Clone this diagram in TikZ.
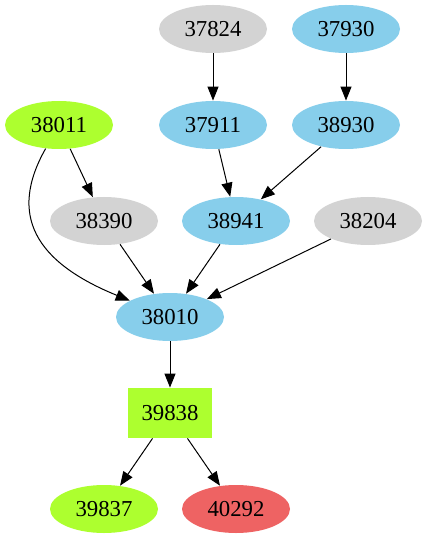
\documentclass[tikz,border=0pt]{standalone}
\usepackage{fontspec}
\setmainfont{Liberation Serif}
\usepackage{tikz}
\usetikzlibrary{shapes.geometric,arrows.meta}
\definecolor{jobgray}{HTML}{D3D3D3}
\definecolor{jobblue}{HTML}{87CEEB}
\definecolor{jobgreen}{HTML}{ADFF2F}
\definecolor{jobred}{HTML}{EE6363}

\begin{document}
\begin{tikzpicture}[
    x=0.5pt, y=-0.5pt,
    job/.style={ellipse, minimum width=54pt, minimum height=24pt, inner sep=0pt, font=\fontsize{11.4}{13}\selectfont},
    jobbox/.style={rectangle, minimum width=42pt, minimum height=25pt, inner sep=0pt, font=\fontsize{11.4}{13}\selectfont},
    arrow/.style={-{Triangle[length=7pt,width=5.5pt]}, line width=0.5pt}
]
\useasboundingbox (0,0) rectangle (427,539);
\node[job, fill=jobgray] (j37824) at (213,29) {37824};
\node[job, fill=jobblue] (j37930) at (346,29) {37930};
\node[job, fill=jobgreen] (j38011) at (59,125) {38011};
\node[job, fill=jobblue] (j37911) at (213,125) {37911};
\node[job, fill=jobblue] (j38930) at (346,125) {38930};
\node[job, fill=jobgray] (j38390) at (104,221) {38390};
\node[job, fill=jobblue] (j38941) at (236,221) {38941};
\node[job, fill=jobgray] (j38204) at (368,221) {38204};
\node[job, fill=jobblue] (j38010) at (170,317) {38010};
\node[jobbox, fill=jobgreen] (j39838) at (170,413) {39838};
\node[job, fill=jobgreen] (j39837) at (104,509) {39837};
\node[job, fill=jobred] (j40292) at (236,509) {40292};
\draw[arrow] (j37824) -- (j37911);
\draw[arrow] (j37930) -- (j38930);
\draw[arrow] (j38011) -- (j38390);
\draw[arrow] (j37911) -- (j38941);
\draw[arrow] (j38930) -- (j38941);
\draw[arrow] (j38011) .. controls (8,215) and (35,262) .. (j38010);
\draw[arrow] (j38390) -- (j38010);
\draw[arrow] (j38941) -- (j38010);
\draw[arrow] (j38204) -- (j38010);
\draw[arrow] (j38010) -- (j39838);
\draw[arrow] (j39838) -- (j39837);
\draw[arrow] (j39838) -- (j40292);
\end{tikzpicture}
\end{document}
